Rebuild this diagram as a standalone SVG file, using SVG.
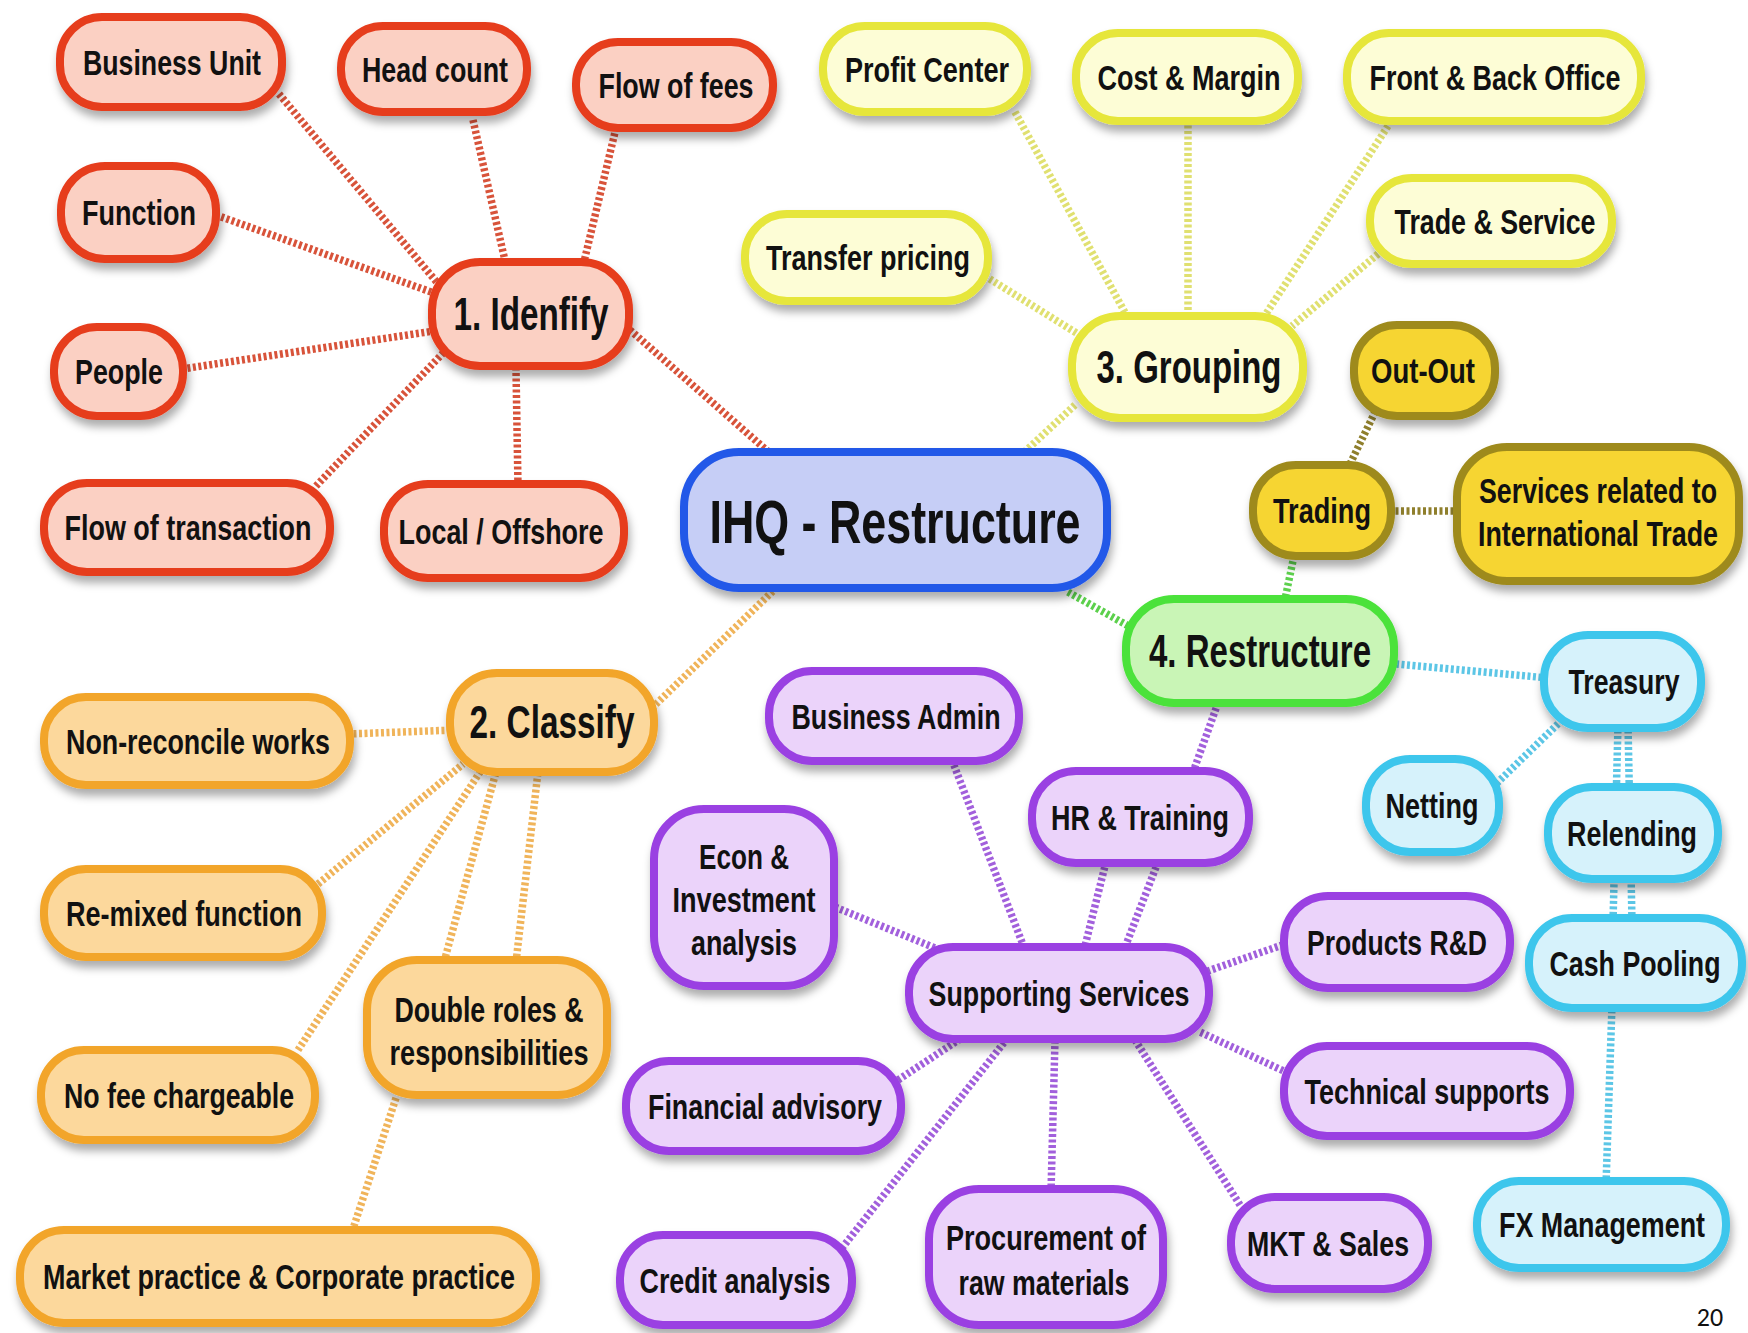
<svg xmlns="http://www.w3.org/2000/svg" width="1748" height="1333" viewBox="0 0 1748 1333">
<defs>
<filter id="sh" x="-20%" y="-30%" width="140%" height="170%">
<feDropShadow dx="2" dy="7" stdDeviation="4" flood-color="#000" flood-opacity="0.32"/>
</filter>
</defs>
<style>
.n rect{stroke-width:8;filter:url(#sh)}
.n text{font-family:'Liberation Sans',Arial,sans-serif;font-weight:bold;font-size:36px;fill:#111;text-anchor:middle}
.n text.l1{font-size:46px}
.n text.l0{font-size:62px}
.red rect{fill:#fbd0c3;stroke:#e63c1e}
.blu rect{fill:#c6cef6;stroke:#2358e8}
.yel rect{fill:#fdfdd6;stroke:#e6e63a}
.gld rect{fill:#f6d531;stroke:#9e8a1c}
.grn rect{fill:#c9f5b6;stroke:#4be23a}
.cyn rect{fill:#d6f2fb;stroke:#3ec6ec}
.pur rect{fill:#ebd3fa;stroke:#9a40e2}
.org rect{fill:#fcd89c;stroke:#f2a52a}
#connectors line{stroke-width:7.5;stroke-dasharray:3 2.5;fill:none}
.c-red{stroke:#d8533a}
.c-yel{stroke:#e0e070}
.c-olv{stroke:#8f7f2c}
.c-grn{stroke:#5cd04c}
.c-cyn{stroke:#5cc6e6}
.c-pur{stroke:#a260dc}
.c-org{stroke:#f0b45a}
.pg{font-family:'Carlito','Open Sans','Liberation Sans',sans-serif;font-size:26px;fill:#111;text-anchor:middle}
</style>
<rect width="1748" height="1333" fill="#fff"/>
<g id="connectors">
<line class="c-red" x1="279" y1="94" x2="440" y2="286"/>
<line class="c-red" x1="473" y1="120" x2="506" y2="265"/>
<line class="c-red" x1="616" y1="128" x2="583" y2="266"/>
<line class="c-red" x1="216" y1="215" x2="434" y2="293"/>
<line class="c-red" x1="182" y1="369" x2="434" y2="331"/>
<line class="c-red" x1="316" y1="486" x2="444" y2="352"/>
<line class="c-red" x1="518" y1="486" x2="516" y2="370"/>
<line class="c-red" x1="630" y1="330" x2="772" y2="455"/>
<line class="c-yel" x1="1015" y1="112" x2="1128" y2="318"/>
<line class="c-yel" x1="1188" y1="120" x2="1188" y2="318"/>
<line class="c-yel" x1="1388" y1="126" x2="1262" y2="320"/>
<line class="c-yel" x1="1378" y1="254" x2="1292" y2="326"/>
<line class="c-yel" x1="985" y1="276" x2="1078" y2="334"/>
<line class="c-yel" x1="1075" y1="405" x2="1020" y2="456"/>
<line class="c-olv" x1="1350" y1="464" x2="1376" y2="410"/>
<line class="c-olv" x1="1390" y1="511" x2="1460" y2="511"/>
<line class="c-grn" x1="1294" y1="556" x2="1284" y2="604"/>
<line class="c-grn" x1="1068" y1="592" x2="1132" y2="628"/>
<line class="c-cyn" x1="1396" y1="664" x2="1548" y2="678"/>
<line class="c-cyn" x1="1562" y1="720" x2="1496" y2="784"/>
<line class="c-cyn" x1="1618" y1="725" x2="1613" y2="922"/>
<line class="c-cyn" x1="1628" y1="725" x2="1632" y2="922"/>
<line class="c-cyn" x1="1612" y1="1005" x2="1606" y2="1185"/>
<line class="c-pur" x1="1218" y1="703" x2="1192" y2="775"/>
<line class="c-pur" x1="952" y1="760" x2="1025" y2="950"/>
<line class="c-pur" x1="1106" y1="862" x2="1084" y2="950"/>
<line class="c-pur" x1="1158" y1="862" x2="1124" y2="950"/>
<line class="c-pur" x1="830" y1="905" x2="940" y2="950"/>
<line class="c-pur" x1="1288" y1="943" x2="1205" y2="972"/>
<line class="c-pur" x1="1288" y1="1073" x2="1200" y2="1032"/>
<line class="c-pur" x1="898" y1="1080" x2="960" y2="1039"/>
<line class="c-pur" x1="842" y1="1248" x2="1006" y2="1040"/>
<line class="c-pur" x1="1051" y1="1192" x2="1055" y2="1040"/>
<line class="c-pur" x1="1240" y1="1205" x2="1135" y2="1040"/>
<line class="c-org" x1="652" y1="708" x2="774" y2="590"/>
<line class="c-org" x1="348" y1="734" x2="455" y2="730"/>
<line class="c-org" x1="318" y1="884" x2="463" y2="764"/>
<line class="c-org" x1="298" y1="1050" x2="480" y2="772"/>
<line class="c-org" x1="444" y1="962" x2="496" y2="772"/>
<line class="c-org" x1="516" y1="962" x2="538" y2="772"/>
<line class="c-org" x1="396" y1="1098" x2="352" y2="1232"/>
</g>

<g id="business-unit" class="n red"><rect x="60" y="17" width="222" height="90" rx="42"/><text transform="translate(172,75) scale(0.72,1)" textLength="247.2" lengthAdjust="spacingAndGlyphs">Business Unit</text></g>
<g id="head-count" class="n red"><rect x="341" y="26" width="186" height="86" rx="42"/><text transform="translate(435,82) scale(0.72,1)" textLength="202.8" lengthAdjust="spacingAndGlyphs">Head count</text></g>
<g id="flow-of-fees" class="n red"><rect x="576" y="42" width="197" height="86" rx="42"/><text transform="translate(676,98) scale(0.72,1)" textLength="215.3" lengthAdjust="spacingAndGlyphs">Flow of fees</text></g>
<g id="function" class="n red"><rect x="61" y="166" width="155" height="93" rx="44"/><text transform="translate(139,225) scale(0.72,1)" textLength="158.3" lengthAdjust="spacingAndGlyphs">Function</text></g>
<g id="identify" class="n red"><rect x="432" y="262" width="197" height="104" rx="48"/><text class="l1" transform="translate(531,330) scale(0.72,1)" textLength="215.3" lengthAdjust="spacingAndGlyphs">1. Idenfify</text></g>
<g id="people" class="n red"><rect x="54" y="327" width="129" height="89" rx="43"/><text transform="translate(119,384) scale(0.72,1)" textLength="122.2" lengthAdjust="spacingAndGlyphs">People</text></g>
<g id="flow-of-transaction" class="n red"><rect x="44" y="483" width="286" height="89" rx="43"/><text transform="translate(188,540) scale(0.72,1)" textLength="343.1" lengthAdjust="spacingAndGlyphs">Flow of transaction</text></g>
<g id="local-offshore" class="n red"><rect x="384" y="484" width="240" height="94" rx="44"/><text transform="translate(501,544) scale(0.72,1)" textLength="284.7" lengthAdjust="spacingAndGlyphs">Local / Offshore</text></g>

<g id="ihq-restructure" class="n blu"><rect x="684" y="452" width="423" height="136" rx="55"/><text class="l0" transform="translate(895,543) scale(0.72,1)" textLength="515.3" lengthAdjust="spacingAndGlyphs">IHQ - Restructure</text></g>

<g id="profit-center" class="n yel"><rect x="823" y="26" width="204" height="86" rx="42"/><text transform="translate(927,82) scale(0.72,1)" textLength="227.8" lengthAdjust="spacingAndGlyphs">Profit Center</text></g>
<g id="cost-margin" class="n yel"><rect x="1076" y="33" width="222" height="88" rx="42"/><text transform="translate(1189,90) scale(0.72,1)" textLength="254.2" lengthAdjust="spacingAndGlyphs">Cost &amp; Margin</text></g>
<g id="front-back-office" class="n yel"><rect x="1347" y="33" width="294" height="88" rx="42"/><text transform="translate(1495,90) scale(0.72,1)" textLength="348.6" lengthAdjust="spacingAndGlyphs">Front &amp; Back Office</text></g>
<g id="trade-service" class="n yel"><rect x="1370" y="178" width="242" height="86" rx="42"/><text transform="translate(1495,234) scale(0.72,1)" textLength="279.2" lengthAdjust="spacingAndGlyphs">Trade &amp; Service</text></g>
<g id="transfer-pricing" class="n yel"><rect x="745" y="214" width="243" height="87" rx="42"/><text transform="translate(868,270) scale(0.72,1)" textLength="283.3" lengthAdjust="spacingAndGlyphs">Transfer pricing</text></g>
<g id="grouping" class="n yel"><rect x="1072" y="316" width="231" height="102" rx="48"/><text class="l1" transform="translate(1189,383) scale(0.72,1)" textLength="256.9" lengthAdjust="spacingAndGlyphs">3. Grouping</text></g>

<g id="out-out" class="n gld"><rect x="1354" y="325" width="141" height="91" rx="43"/><text transform="translate(1423,383) scale(0.72,1)" textLength="144.4" lengthAdjust="spacingAndGlyphs">Out-Out</text></g>
<g id="trading" class="n gld"><rect x="1253" y="465" width="138" height="91" rx="43"/><text transform="translate(1322,523) scale(0.72,1)" textLength="136.1" lengthAdjust="spacingAndGlyphs">Trading</text></g>
<g id="services-intl-trade" class="n gld"><rect x="1457" y="447" width="282" height="134" rx="50"/><text transform="translate(1598,503) scale(0.72,1)" textLength="330.6" lengthAdjust="spacingAndGlyphs">Services related to</text><text transform="translate(1598,546) scale(0.72,1)" textLength="333.3" lengthAdjust="spacingAndGlyphs">International Trade</text></g>

<g id="restructure" class="n grn"><rect x="1126" y="599" width="268" height="104" rx="48"/><text class="l1" transform="translate(1260,667) scale(0.72,1)" textLength="308.3" lengthAdjust="spacingAndGlyphs">4. Restructure</text></g>

<g id="treasury" class="n cyn"><rect x="1544" y="635" width="157" height="93" rx="44"/><text transform="translate(1624,694) scale(0.72,1)" textLength="154.2" lengthAdjust="spacingAndGlyphs">Treasury</text></g>
<g id="netting" class="n cyn"><rect x="1366" y="759" width="133" height="93" rx="44"/><text transform="translate(1432,818) scale(0.72,1)" textLength="129.2" lengthAdjust="spacingAndGlyphs">Netting</text></g>
<g id="relending" class="n cyn"><rect x="1548" y="787" width="170" height="92" rx="44"/><text transform="translate(1632,846) scale(0.72,1)" textLength="180.6" lengthAdjust="spacingAndGlyphs">Relending</text></g>
<g id="cash-pooling" class="n cyn"><rect x="1529" y="918" width="213" height="90" rx="43"/><text transform="translate(1635,976) scale(0.72,1)" textLength="237.5" lengthAdjust="spacingAndGlyphs">Cash Pooling</text></g>
<g id="fx-management" class="n cyn"><rect x="1477" y="1181" width="249" height="87" rx="42"/><text transform="translate(1602,1237) scale(0.72,1)" textLength="286.1" lengthAdjust="spacingAndGlyphs">FX Management</text></g>

<g id="business-admin" class="n pur"><rect x="769" y="671" width="250" height="90" rx="43"/><text transform="translate(896,729) scale(0.72,1)" textLength="290.3" lengthAdjust="spacingAndGlyphs">Business Admin</text></g>
<g id="hr-training" class="n pur"><rect x="1032" y="771" width="217" height="92" rx="44"/><text transform="translate(1140,830) scale(0.72,1)" textLength="247.2" lengthAdjust="spacingAndGlyphs">HR &amp; Training</text></g>
<g id="econ-investment" class="n pur"><rect x="654" y="809" width="180" height="177" rx="50"/><text transform="translate(744,869) scale(0.72,1)" textLength="125" lengthAdjust="spacingAndGlyphs">Econ &amp;</text><text transform="translate(744,912) scale(0.72,1)" textLength="198.6" lengthAdjust="spacingAndGlyphs">Investment</text><text transform="translate(744,955) scale(0.72,1)" textLength="147.2" lengthAdjust="spacingAndGlyphs">analysis</text></g>
<g id="supporting-services" class="n pur"><rect x="909" y="947" width="300" height="92" rx="44"/><text transform="translate(1059,1006) scale(0.72,1)" textLength="362.5" lengthAdjust="spacingAndGlyphs">Supporting Services</text></g>
<g id="products-rd" class="n pur"><rect x="1284" y="896" width="226" height="92" rx="44"/><text transform="translate(1397,955) scale(0.72,1)" textLength="250" lengthAdjust="spacingAndGlyphs">Products R&amp;D</text></g>
<g id="technical-supports" class="n pur"><rect x="1284" y="1046" width="286" height="90" rx="43"/><text transform="translate(1427,1104) scale(0.72,1)" textLength="340.3" lengthAdjust="spacingAndGlyphs">Technical supports</text></g>
<g id="financial-advisory" class="n pur"><rect x="626" y="1061" width="275" height="90" rx="43"/><text transform="translate(765,1119) scale(0.72,1)" textLength="325" lengthAdjust="spacingAndGlyphs">Financial advisory</text></g>
<g id="credit-analysis" class="n pur"><rect x="620" y="1235" width="232" height="90" rx="43"/><text transform="translate(735,1293) scale(0.72,1)" textLength="265.3" lengthAdjust="spacingAndGlyphs">Credit analysis</text></g>
<g id="procurement" class="n pur"><rect x="929" y="1189" width="234" height="136" rx="50"/><text transform="translate(1046,1250) scale(0.72,1)" textLength="277.8" lengthAdjust="spacingAndGlyphs">Procurement of</text><text transform="translate(1044,1295) scale(0.72,1)" textLength="237.5" lengthAdjust="spacingAndGlyphs">raw materials</text></g>
<g id="mkt-sales" class="n pur"><rect x="1231" y="1197" width="197" height="92" rx="44"/><text transform="translate(1328,1256) scale(0.72,1)" textLength="225" lengthAdjust="spacingAndGlyphs">MKT &amp; Sales</text></g>

<g id="classify" class="n org"><rect x="450" y="673" width="204" height="99" rx="47"/><text class="l1" transform="translate(552,738) scale(0.72,1)" textLength="229.2" lengthAdjust="spacingAndGlyphs">2. Classify</text></g>
<g id="non-reconcile" class="n org"><rect x="44" y="697" width="306" height="88" rx="42"/><text transform="translate(198,754) scale(0.72,1)" textLength="366.7" lengthAdjust="spacingAndGlyphs">Non-reconcile works</text></g>
<g id="re-mixed" class="n org"><rect x="44" y="869" width="278" height="88" rx="42"/><text transform="translate(184,926) scale(0.72,1)" textLength="327.8" lengthAdjust="spacingAndGlyphs">Re-mixed function</text></g>
<g id="no-fee" class="n org"><rect x="41" y="1050" width="274" height="90" rx="43"/><text transform="translate(179,1108) scale(0.72,1)" textLength="319.4" lengthAdjust="spacingAndGlyphs">No fee chargeable</text></g>
<g id="double-roles" class="n org"><rect x="367" y="960" width="240" height="135" rx="50"/><text transform="translate(489,1022) scale(0.72,1)" textLength="262.5" lengthAdjust="spacingAndGlyphs">Double roles &amp;</text><text transform="translate(489,1065) scale(0.72,1)" textLength="276.4" lengthAdjust="spacingAndGlyphs">responsibilities</text></g>
<g id="market-practice" class="n org"><rect x="20" y="1230" width="516" height="93" rx="44"/><text transform="translate(279,1289) scale(0.72,1)" textLength="655.6" lengthAdjust="spacingAndGlyphs">Market practice &amp; Corporate practice</text></g>

<text class="pg" x="1710" y="1326">20</text>
</svg>
